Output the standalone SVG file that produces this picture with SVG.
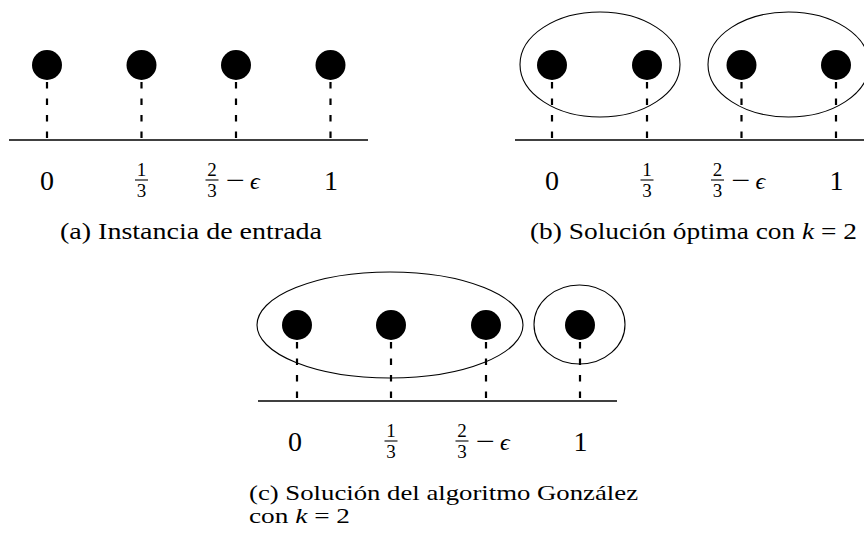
<svg xmlns="http://www.w3.org/2000/svg" width="864" height="537" viewBox="0 0 864 537">
<style>
.dot{fill:#000}
.drop{stroke:#000;stroke-width:2.2;stroke-dasharray:6.5 10;fill:none}
.axis{stroke:#000;stroke-width:1.3;fill:none}
.ell{stroke:#000;stroke-width:1.1;fill:none}
.bar{stroke:#000;stroke-width:1.1}
text{font-family:"Liberation Serif","DejaVu Serif",serif;fill:#000}
</style>
<rect width="864" height="537" fill="#fff"/>

<!-- Panel (a) -->
<g id="panel-a">
  <g id="connectors-a">
    <line class="axis" x1="9" y1="140" x2="368" y2="140"/>
    <line class="drop" x1="47" y1="82" x2="47" y2="140"/>
    <line class="drop" x1="141.5" y1="82" x2="141.5" y2="140"/>
    <line class="drop" x1="236" y1="82" x2="236" y2="140"/>
    <line class="drop" x1="330.5" y1="82" x2="330.5" y2="140"/>
  </g>
  <g id="a-p0"><circle class="dot" cx="47" cy="65" r="15"/></g>
  <g id="a-p1"><circle class="dot" cx="141.5" cy="65" r="15"/></g>
  <g id="a-p2"><circle class="dot" cx="236" cy="65" r="15"/></g>
  <g id="a-p3"><circle class="dot" cx="330.5" cy="65" r="15"/></g>
  <g id="a-labels">
    <text x="47" y="190" font-size="28" text-anchor="middle">0</text>
    <text x="141.5" y="176" font-size="19" text-anchor="middle">1</text>
    <line class="bar" x1="135" y1="180" x2="148" y2="180"/>
    <text x="141.5" y="197" font-size="19" text-anchor="middle">3</text>
    <text x="212" y="176" font-size="19" text-anchor="middle">2</text>
    <line class="bar" x1="205.5" y1="180" x2="218.5" y2="180"/>
    <text x="212" y="197" font-size="19" text-anchor="middle">3</text>
    <text x="226" y="189" font-size="26" textLength="19" lengthAdjust="spacingAndGlyphs">−</text>
    <text x="250" y="189" font-size="24" font-style="italic" font-family="DejaVu Serif, serif">ϵ</text>
    <text x="331" y="190" font-size="28" text-anchor="middle">1</text>
  </g>
  <text x="60" y="239" font-size="23" textLength="262" lengthAdjust="spacingAndGlyphs">(a) Instancia de entrada</text>
</g>

<!-- Panel (b) -->
<g id="panel-b">
  <g id="connectors-b">
    <line class="axis" x1="515" y1="140" x2="874" y2="140"/>
    <line class="drop" x1="552" y1="82" x2="552" y2="140"/>
    <line class="drop" x1="647" y1="82" x2="647" y2="140"/>
    <line class="drop" x1="741.5" y1="82" x2="741.5" y2="140"/>
    <line class="drop" x1="836" y1="82" x2="836" y2="140"/>
  </g>
  <g id="b-cluster1"><ellipse class="ell" cx="600" cy="64.5" rx="80" ry="52.5"/></g>
  <g id="b-cluster2"><ellipse class="ell" cx="788.5" cy="64.5" rx="80.5" ry="52.5"/></g>
  <g id="b-p0"><circle class="dot" cx="552" cy="65" r="15"/></g>
  <g id="b-p1"><circle class="dot" cx="647" cy="65" r="15"/></g>
  <g id="b-p2"><circle class="dot" cx="741.5" cy="65" r="15"/></g>
  <g id="b-p3"><circle class="dot" cx="836" cy="65" r="15"/></g>
  <g id="b-labels">
    <text x="552" y="190" font-size="28" text-anchor="middle">0</text>
    <text x="647" y="176" font-size="19" text-anchor="middle">1</text>
    <line class="bar" x1="640.5" y1="180" x2="653.5" y2="180"/>
    <text x="647" y="197" font-size="19" text-anchor="middle">3</text>
    <text x="717.5" y="176" font-size="19" text-anchor="middle">2</text>
    <line class="bar" x1="711" y1="180" x2="724" y2="180"/>
    <text x="717.5" y="197" font-size="19" text-anchor="middle">3</text>
    <text x="731.5" y="189" font-size="26" textLength="19" lengthAdjust="spacingAndGlyphs">−</text>
    <text x="755.5" y="189" font-size="24" font-style="italic" font-family="DejaVu Serif, serif">ϵ</text>
    <text x="836.5" y="190" font-size="28" text-anchor="middle">1</text>
  </g>
  <text x="530" y="239" font-size="23" textLength="327" lengthAdjust="spacingAndGlyphs">(b) Solución óptima con <tspan font-style="italic">k</tspan> = 2</text>
</g>

<!-- Panel (c) -->
<g id="panel-c">
  <g id="connectors-c">
    <line class="axis" x1="258" y1="401" x2="617" y2="401"/>
    <line class="drop" x1="297" y1="342" x2="297" y2="401"/>
    <line class="drop" x1="391" y1="342" x2="391" y2="401"/>
    <line class="drop" x1="486" y1="342" x2="486" y2="401"/>
    <line class="drop" x1="580" y1="342" x2="580" y2="401"/>
  </g>
  <g id="c-cluster1"><ellipse class="ell" cx="390" cy="325" rx="133" ry="53"/></g>
  <g id="c-cluster2"><ellipse class="ell" cx="579.5" cy="324.5" rx="45.5" ry="39.5"/></g>
  <g id="c-p0"><circle class="dot" cx="297" cy="325" r="15"/></g>
  <g id="c-p1"><circle class="dot" cx="391" cy="325" r="15"/></g>
  <g id="c-p2"><circle class="dot" cx="486" cy="325" r="15"/></g>
  <g id="c-p3"><circle class="dot" cx="580" cy="325" r="15"/></g>
  <g id="c-labels">
    <text x="295" y="451" font-size="28" text-anchor="middle">0</text>
    <text x="391" y="437" font-size="19" text-anchor="middle">1</text>
    <line class="bar" x1="384.5" y1="441" x2="397.5" y2="441"/>
    <text x="391" y="458" font-size="19" text-anchor="middle">3</text>
    <text x="462" y="437" font-size="19" text-anchor="middle">2</text>
    <line class="bar" x1="455.5" y1="441" x2="468.5" y2="441"/>
    <text x="462" y="458" font-size="19" text-anchor="middle">3</text>
    <text x="476" y="450" font-size="26" textLength="19" lengthAdjust="spacingAndGlyphs">−</text>
    <text x="500" y="450" font-size="24" font-style="italic" font-family="DejaVu Serif, serif">ϵ</text>
    <text x="580.5" y="451" font-size="28" text-anchor="middle">1</text>
  </g>
  <text x="249" y="500" font-size="22" textLength="389" lengthAdjust="spacingAndGlyphs">(c) Solución del algoritmo González</text>
  <text x="249" y="523" font-size="22" textLength="101" lengthAdjust="spacingAndGlyphs">con <tspan font-style="italic">k</tspan> = 2</text>
</g>
</svg>
